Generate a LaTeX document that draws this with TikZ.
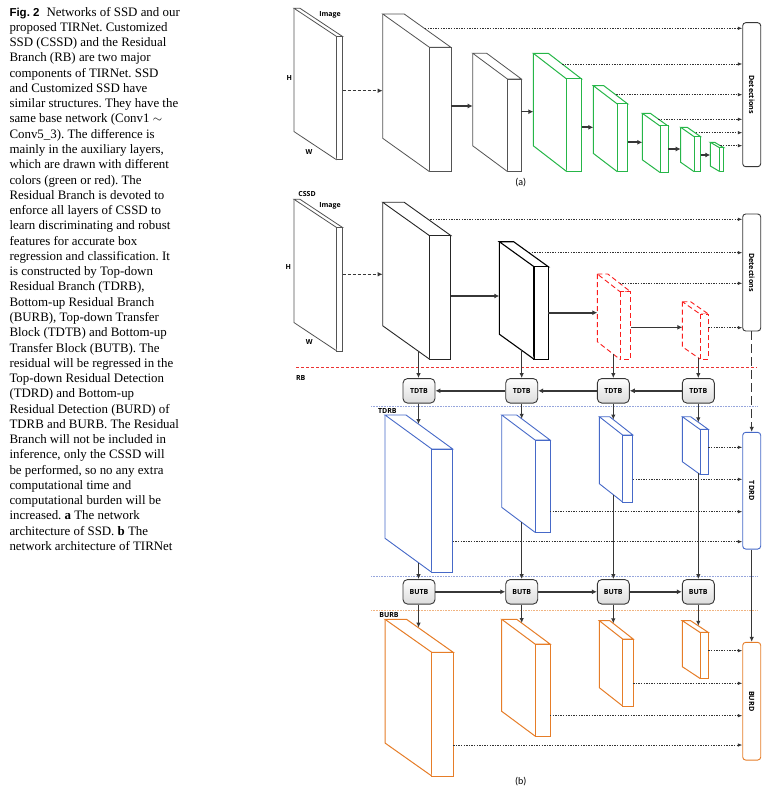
\documentclass[tikz,border=0pt]{standalone}
\usepackage{fontspec}
\usepackage{graphicx}
\setmainfont{Liberation Serif}
\newfontfamily\labfont{Open Sans}
\newfontfamily\figfont{Liberation Sans}
\newfontfamily\subfont{Carlito}
\usetikzlibrary{arrows.meta}
\definecolor{cgreen}{RGB}{38,182,72}
\definecolor{cblue}{RGB}{70,105,200}
\definecolor{corange}{RGB}{230,125,40}
\definecolor{cred}{RGB}{250,30,30}
\definecolor{arrgray}{RGB}{55,55,55}
\definecolor{sepblue}{RGB}{150,165,220}
\definecolor{seporange}{RGB}{240,180,130}
\definecolor{sepred}{RGB}{235,50,50}
\newcommand\slab[8]{%
  \draw[#8] (#2,#3) -- ({#2+#6},#3) -- ({#2+#4+#6},{#3+#5}) -- ({#2+#4},{#3+#5}) -- cycle;
  \draw[#8] ({#2+#4},{#3+#5}) rectangle ({#2+#4+#6},{#3+#5+#7});
  \draw[#8] (#2,#3) -- (#2,{#3+#7}) -- ({#2+#4},{#3+#5+#7});
  \coordinate (#1-l) at (#2,{#3+#7/2});
  \coordinate (#1-r) at ({#2+#4+#6},{#3+#5+#7/2});
}
\tikzset{
  arr/.style={draw=arrgray, line width=1.6pt, -{Latex[length=5pt,width=5pt]}},
  varr/.style={draw=arrgray, line width=1.2pt, -{Latex[length=5pt,width=4.5pt]}},
  dotarr/.style={draw=black!80, line width=0.7pt, dash pattern=on 1.4pt off 1.2pt, -{Latex[length=4.5pt,width=3.6pt]}},
  dasharr/.style={draw=arrgray, line width=1.1pt, dash pattern=on 3pt off 2pt, -{Latex[length=5pt,width=4.5pt]}},
  longdash/.style={draw=arrgray, line width=1.2pt, dash pattern=on 9pt off 4pt, -{Latex[length=5pt,width=4.5pt]}},
  blk/.style={draw=arrgray, line width=0.9pt, rounded corners=4.5pt, top color=white, bottom color=gray!28,
    minimum width=32pt, minimum height=24.5pt, inner sep=0pt, font=\labfont\bfseries\fontsize{7}{8}\selectfont},
  detbox/.style={draw=#1, line width=0.9pt, rounded corners=3pt, fill=white, minimum width=18pt, inner sep=0pt,
    font=\labfont\bfseries\fontsize{7.2}{8}\selectfont},
  lab/.style={font=\labfont\bfseries\fontsize{7}{8}\selectfont, inner sep=0pt},
  sub/.style={font=\subfont\fontsize{10}{12}\selectfont, inner sep=0pt},
  sgray/.style={draw=gray!65!black, line width=0.8pt, fill=white},
  sblack/.style={draw=black!85, line width=0.9pt, fill=white},
  sblackthick/.style={draw=black, line width=1.1pt, fill=white},
  sgreen/.style={draw=cgreen, line width=1pt, fill=white},
  sred/.style={draw=cred, line width=0.9pt, dash pattern=on 5pt off 3pt, fill=white},
  sblue/.style={draw=cblue, line width=0.9pt, fill=white},
  sorange/.style={draw=corange, line width=1pt, fill=white},
}
\begin{document}
\begin{tikzpicture}[x=1pt,y=-1pt]
\useasboundingbox (0,0) rectangle (780,802);
% caption
\node[anchor=north west, inner sep=0pt, align=left, font=\fontsize{12.9}{15.27}\selectfont\frenchspacing] (cap) at (9.3,6.8) {%
{\figfont\bfseries\fontsize{11.5}{15.27}\selectfont Fig. 2}\hspace{7pt}Networks of SSD and our\\
proposed TIRNet. Customized\\
SSD (CSSD) and the Residual\\
Branch (RB) are two major\\
components of TIRNet. SSD\\
and Customized SSD have\\
similar structures. They have the\\
same base network (Conv1 $\sim$\\
Conv5\_3). The difference is\\
mainly in the auxiliary layers,\\
which are drawn with different\\
colors (green or red). The\\
Residual Branch is devoted to\\
enforce all layers of CSSD to\\
learn discriminating and robust\\
features for accurate box\\
regression and classification. It\\
is constructed by Top-down\\
Residual Branch (TDRB),\\
Bottom-up Residual Branch\\
(BURB), Top-down Transfer\\
Block (TDTB) and Bottom-up\\
Transfer Block (BUTB). The\\
residual will be regressed in the\\
Top-down Residual Detection\\
(TDRD) and Bottom-up\\
Residual Detection (BURD) of\\
TDRB and BURB. The Residual\\
Branch will not be included in\\
inference, only the CSSD will\\
be performed, so no any extra\\
computational time and\\
computational burden will be\\
increased. \textbf{a} The network\\
architecture of SSD. \textbf{b} The\\
network architecture of TIRNet};

% ---------------- (a) ----------------
\slab{imga}{294}{8.3}{42.7}{28.3}{6}{123.3}{sgray}
\slab{b2a}{382.7}{14}{46.7}{33.3}{21.5}{124.3}{sgray}
\slab{b3a}{472.7}{53.3}{34.7}{25.7}{14}{92.5}{sgray}
\slab{g1}{533.3}{53.3}{33.3}{25.7}{15}{92.5}{sgreen}
\slab{g2}{593.3}{85.7}{24}{18.3}{10.5}{67.7}{sgreen}
\slab{g3}{642.3}{113.3}{17.7}{12.7}{8}{46.5}{sgreen}
\slab{g4}{680.7}{127.3}{13.3}{9.3}{6.5}{35}{sgreen}
\slab{g5}{710.3}{142.3}{9}{5.3}{4.3}{23.7}{sgreen}
\node[lab] (imgal) at (330,15) {Image};
\node[lab] (hal) at (289.3,78) {H};
\node[lab] (wal) at (309,152) {W};
\node[detbox=arrgray, minimum height=144pt] (deta) at (751.7,94.7) {\rotatebox{-90}{Detections}};
\node[sub] (suba) at (520.7,182.7) {(a)};

\draw[dasharr] (imga-r |- 0,90.7) -- (b2a-l |- 0,90.7);
\draw[arr] (b2a-r |- 0,106) -- (b3a-l |- 0,106);
\draw[arr] (b3a-r |- 0,111.7) -- (g1-l |- 0,111.7);
\draw[arr] (g1-r |- 0,127.3) -- (g2-l |- 0,127.3);
\draw[arr] (g2-r |- 0,142.3) -- (g3-l |- 0,142.3);
\draw[arr] (g3-r |- 0,149) -- (g4-l |- 0,149);
\draw[arr] (g4-r |- 0,155) -- (g5-l |- 0,155);
\coordinate (da1) at (425,28.3);
\coordinate (da2) at (562.2,64);
\coordinate (da3) at (616.1,94.7);
\coordinate (da4) at (658.4,119.3);
\coordinate (da5) at (696,132.7);
\coordinate (da6) at (720.4,145.7);
\foreach \c in {da1,da2,da3,da4,da5,da6}{\draw[dotarr] (\c) -- (deta.west |- \c);}

% ---------------- (b) ----------------
\node[lab] (cssdl) at (307,194) {CSSD};
\slab{imgb}{294}{199.3}{42.7}{28.3}{6}{123.3}{sgray}
\slab{b2b}{382.7}{202.3}{46.7}{33.3}{21.5}{123.5}{sblack}
\slab{b3b}{499.3}{241.7}{34.7}{25}{14.3}{92.5}{sblackthick}
\slab{r1}{597.3}{274}{22.7}{17.7}{10.5}{67.7}{sred}
\slab{r2}{682.3}{301.7}{17.7}{12.3}{8.3}{45}{sred}
\node[lab] (imgbl) at (330,206) {Image};
\node[lab] (hbl) at (288.3,267.3) {H};
\node[lab] (wbl) at (309.3,342.3) {W};
\node[detbox=arrgray, minimum height=117pt] (detb) at (751.7,272.5) {\rotatebox{-90}{Detections}};

\draw[dasharr] (imgb-r |- 0,274.3) -- (b2b-l |- 0,274.3);
\draw[arr] (b2b-r |- 0,296) -- (b3b-l |- 0,296);
\draw[arr] (b3b-r |- 0,312.7) -- (r1-l |- 0,312.7);
\draw[arr] (r1-r |- 0,327.3) -- (r2-l |- 0,327.3);
\coordinate (db1) at (427.8,219.3);
\coordinate (db2) at (529,252.7);
\coordinate (db3) at (619.7,283.3);
\coordinate (db4) at (r2-r |- 0,327.7);
\foreach \c in {db1,db2,db3,db4}{\draw[dotarr] (\c) -- (detb.west |- \c);}

% separator CSSD / RB
\draw[sepred, line width=0.8pt, dash pattern=on 3pt off 2pt] (296,367.5) -- (757,367.5);
\node[lab] (rbl) at (300.7,378.3) {RB};

% TDTB row
\node[blk] (tdtb1) at (419,390.8) {TDTB};
\node[blk] (tdtb2) at (521.7,390.8) {TDTB};
\node[blk] (tdtb3) at (613.3,390.8) {TDTB};
\node[blk] (tdtb4) at (698.3,390.8) {TDTB};
\draw[arr] (tdtb2.west) -- (tdtb1.east);
\draw[arr] (tdtb3.west) -- (tdtb2.east);
\draw[arr] (tdtb4.west) -- (tdtb3.east);
\draw[varr] (418.5,350.7) -- (tdtb1.north -| 418.5,0);
\draw[varr] (521.7,350.1) -- (tdtb2.north);
\draw[varr] (613.3,354.2) -- (tdtb3.north);
\draw[varr] (698.3,357.8) -- (tdtb4.north);

\draw[sepblue, line width=0.8pt, dash pattern=on 0.8pt off 0.8pt] (371,406.7) -- (757,406.7);
\node[lab] (tdrbl) at (387.3,410.7) {TDRB};

% TDRB
\slab{bl1}{385}{415}{46.7}{34}{21}{123.3}{sblue}
\slab{bl2}{501.7}{415}{33.3}{25}{15}{92.3}{sblue}
\slab{bl3}{599.3}{416.7}{23.3}{18.3}{10.3}{67}{sblue}
\slab{bl4}{682.3}{416.7}{17.7}{12.7}{8.3}{45}{sblue}
\node[detbox=cblue, minimum height=116.7pt] (tdrd) at (751.7,490.7) {\rotatebox{-90}{TDRD}};
\draw[longdash] (detb.south) -- (tdrd.north);
\draw[varr] (tdtb1.south -| 418.5,0) -- (418.5,424.1);
\draw[varr] (tdtb2.south) -- (521.7,418.8);
\draw[varr] (tdtb3.south) -- (613.3,419.6);
\draw[varr] (tdtb4.south) -- (698.3,422.4);
\foreach \s/\y in {bl4/447.3,bl3/479.3,bl2/511.7,bl1/541.7}{\draw[dotarr] (\s-r |- 0,\y) -- (tdrd.west |- 0,\y);}

\draw[sepblue, line width=0.8pt, dash pattern=on 0.8pt off 0.8pt] (371,576.7) -- (757,576.7);

% BUTB row
\node[blk] (butb1) at (419,591.8) {BUTB};
\node[blk] (butb2) at (521.7,591.8) {BUTB};
\node[blk] (butb3) at (613.3,591.8) {BUTB};
\node[blk] (butb4) at (698.3,591.8) {BUTB};
\draw[arr] (butb1.east) -- (butb2.west);
\draw[arr] (butb2.east) -- (butb3.west);
\draw[arr] (butb3.east) -- (butb4.west);
\draw[varr] (418.5,562.7) -- (butb1.north -| 418.5,0);
\draw[varr] (521.7,522.3) -- (butb2.north);
\draw[varr] (613.3,494.7) -- (butb3.north);
\draw[varr] (698.3,473.2) -- (butb4.north);

\draw[seporange, line width=0.8pt, dash pattern=on 0.8pt off 0.8pt] (371,610.7) -- (757,610.7);
\node[lab] (burbl) at (389,615) {BURB};

% BURB
\slab{o1}{385}{619.3}{46.7}{33}{21.5}{123.7}{sorange}
\slab{o2}{501.7}{619.3}{33.3}{24.7}{15}{92}{sorange}
\slab{o3}{599.3}{620.7}{23.3}{18.3}{10.5}{67}{sorange}
\slab{o4}{682.3}{620.7}{17.7}{11.7}{8.3}{46}{sorange}
\node[detbox=corange, minimum height=117.7pt] (burd) at (751.7,701.2) {\rotatebox{-90}{BURD}};
\draw[varr] (tdrd.south) -- (burd.north);
\draw[varr] (butb1.south -| 418.5,0) -- (418.5,627.6);
\draw[varr] (butb2.south) -- (521.7,623.0);
\draw[varr] (butb3.south) -- (613.3,623.4);
\draw[varr] (butb4.south) -- (698.3,625.8);
\foreach \s/\y in {o4/650.7,o3/683.3,o2/715.7,o1/745}{\draw[dotarr] (\s-r |- 0,\y) -- (burd.west |- 0,\y);}

\node[sub] (subb) at (520.7,782) {(b)};
\end{tikzpicture}
\end{document}
